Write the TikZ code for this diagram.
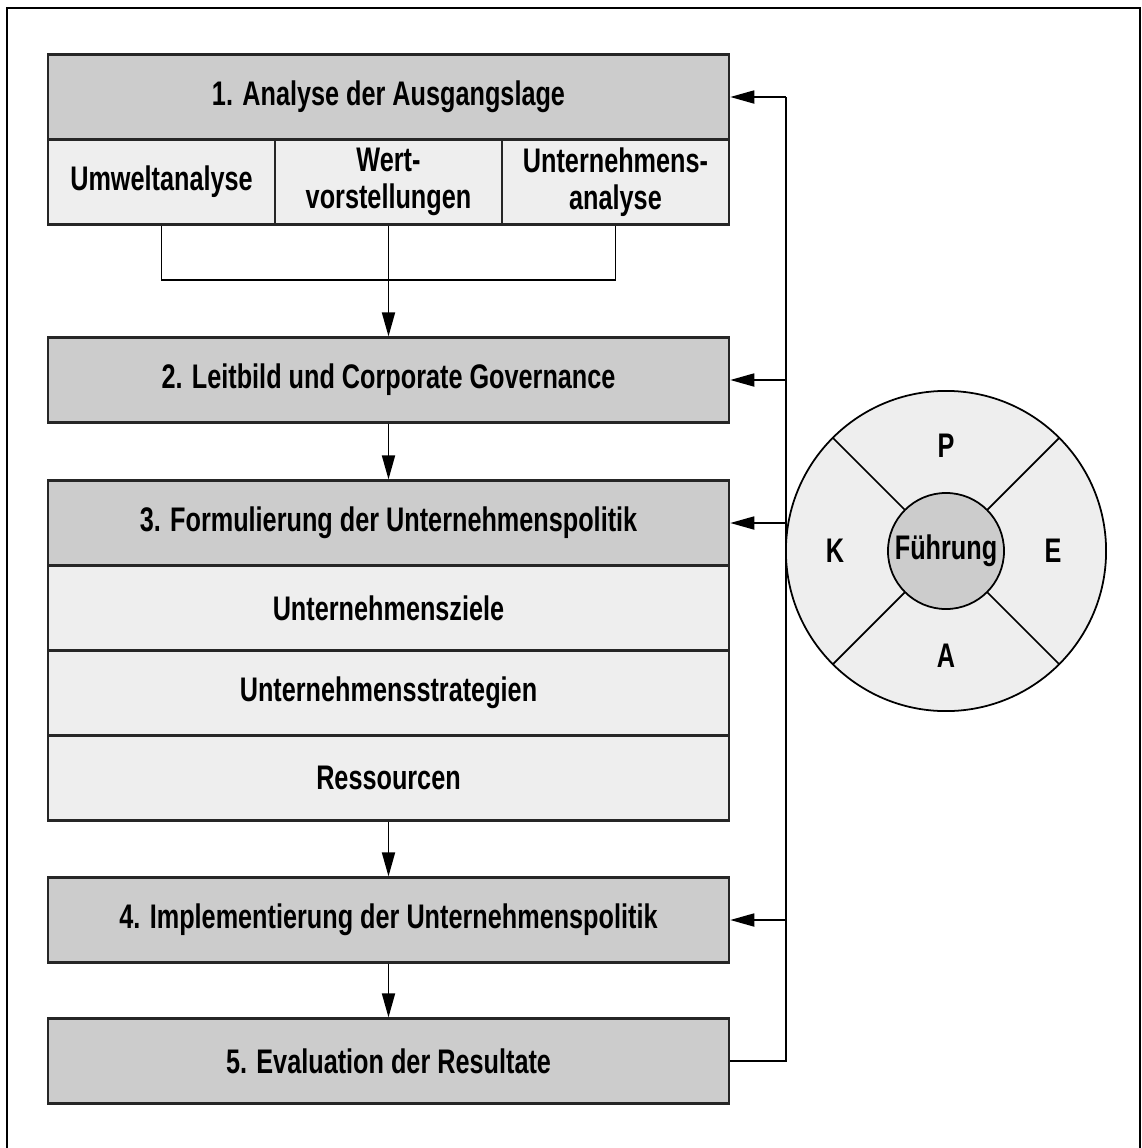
\documentclass[tikz,border=0pt]{standalone}
\usepackage{fontspec}
\setmainfont[FakeStretch=0.74]{Liberation Sans}
\usepackage{tikz}
\usetikzlibrary{arrows.meta, positioning}
\definecolor{dark}{RGB}{204, 204, 204}
\definecolor{light}{RGB}{238, 238, 238}

\begin{document}
\begin{tikzpicture}[x=0.01cm, y=-0.01cm,
      hd/.style={draw=black!85, fill=dark, line width=0.6pt, minimum width=6.81cm, minimum height=0.85cm,
                 align=center, font=\fontsize{9.7}{10.4}\selectfont\bfseries, inner sep=0pt},
      sb/.style={hd, fill=light},
      lb/.style={font=\fontsize{9.7}{10.4}\selectfont\bfseries},
      ar/.style={-{Triangle[length=0.24cm, width=0.13cm]}, line width=0.5pt}]
      \useasboundingbox (0,0) rectangle (1141,1148);
      \draw[line width=0.6pt] (7,1150) -- (7,8) -- (1140,8) -- (1140,1150);
      % Schritte
      \node[hd] (b1) at (388.5,97)  {1. Analyse der Ausgangslage};
      \node[sb, minimum width=2.27cm] (u1) at (161.5,182) {Umweltanalyse};
      \node[sb, minimum width=2.27cm] (u2) at (388.5,182) {Wert-\\vorstellungen};
      \node[sb, minimum width=2.27cm] (u3) at (615.5,182) {Unternehmens-\\analyse};
      \node[hd] (b2) at (388.5,380) {2. Leitbild und Corporate Governance};
      \node[hd] (b3) at (388.5,523) {3. Formulierung der Unternehmenspolitik};
      \node[sb] (z1) at (388.5,608) {Unternehmensziele};
      \node[sb] (z2) at (388.5,693) {Unternehmensstrategien};
      \node[sb] (z3) at (388.5,778) {Ressourcen};
      \node[hd] (b4) at (388.5,920) {4. Implementierung der Unternehmenspolitik};
      \node[hd] (b5) at (388.5,1061) {5. Evaluation der Resultate};
      \coordinate (j) at (388.5,280);
      \draw[line width=0.5pt] (u1.south) |- (j) -| (u3.south);
      \draw[ar] (u2.south) -- (b2.north);
      \draw[ar] (b2) -- (b3);
      \draw[ar] (z3) -- (b4);
      \draw[ar] (b4) -- (b5);
      % Rueckkopplung
      \coordinate (fb) at (786,97);
      \draw[line width=0.5pt] (b5.east) -| (fb);
      \draw[ar] (fb) -- (b1.east);
      \draw[ar] (fb |- b2.east) -- (b2.east);
      \draw[ar] (fb |- b3.east) -- (b3.east);
      \draw[ar] (fb |- b4.east) -- (b4.east);
      % Fuehrungskreis
      \node[circle, draw, fill=light, line width=0.5pt, minimum size=3.2cm, inner sep=0pt] (kr) at (946,551) {};
      \foreach \w in {45,135,225,315}
        \draw[line width=0.5pt] (kr.center) ++(\w:0.58cm) -- ++(\w:1.02cm);
      \node[circle, draw, fill=dark, line width=0.5pt, minimum size=1.16cm, inner sep=0pt, lb] (fu) at (kr.center) {Führung};
      \node[lb] (p) at (946,446) {P};
      \node[lb] (k) at (835,551) {K};
      \node[lb] (e) at (1053,551) {E};
      \node[lb] (a) at (946,656) {A};
\end{tikzpicture}
\end{document}
